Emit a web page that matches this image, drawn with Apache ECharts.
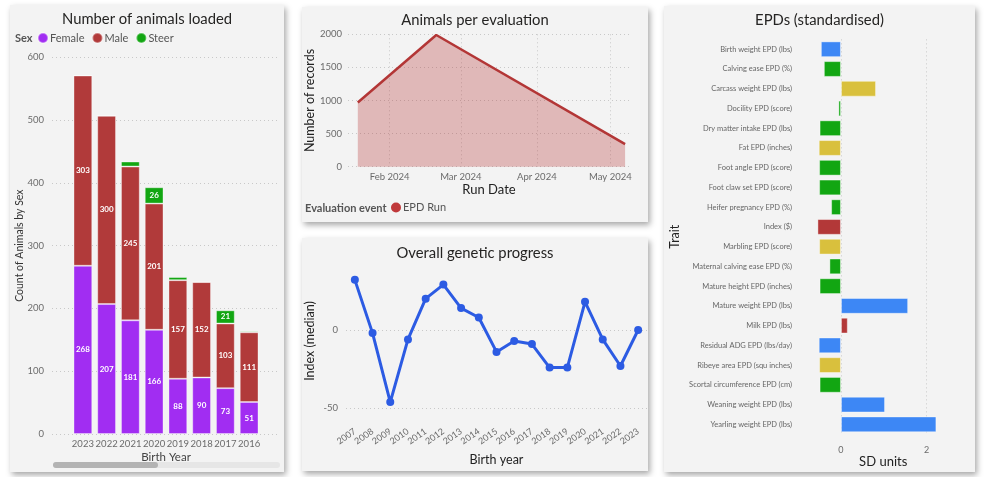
<!DOCTYPE html>
<html>
<head>
<meta charset="utf-8">
<script src="https://cdn.jsdelivr.net/npm/echarts@6/dist/echarts.min.js"></script>
<style>
  html, body { margin: 0; padding: 0; background: #ffffff; width: 986px; height: 477px; overflow: hidden; }
  .panel { position: absolute; background: #f3f3f3; box-shadow: 2px 3px 6px rgba(0,0,0,0.35); }
</style>
</head>
<body>
<div id="c1" class="panel" style="left:10px;top:5px;width:274px;height:467px;"></div>
<div id="c2" class="panel" style="left:302px;top:7px;width:346px;height:215px;"></div>
<div id="c3" class="panel" style="left:302px;top:238px;width:346px;height:233px;"></div>
<div id="c4" class="panel" style="left:664px;top:6px;width:311px;height:466px;"></div>
<script>
// ---------- data ----------
const birthYearsLoaded = ['2023', '2022', '2021', '2020', '2019', '2018', '2017', '2016'];
const femaleCount = [268, 207, 181, 166, 88, 90, 73, 51];
const maleCount = [303, 300, 245, 201, 157, 152, 103, 111];
const steerCount = [0, 0, 8, 26, 5, 0, 21, 2];
const countTicks = [0, 100, 200, 300, 400, 500, 600];

const runDates = ['2024-01-19', '2024-02-20', '2024-05-07'];
const runRecords = [970, 1990, 340];
const recordTicks = [0, 500, 1000, 1500, 2000];

const progressYears = ['2007', '2008', '2009', '2010', '2011', '2012', '2013', '2014', '2015',
  '2016', '2017', '2018', '2019', '2020', '2021', '2022', '2023'];
const indexMedian = [32, -2, -46, -6, 20, 29, 14, 8, -14, -7, -9, -24, -24, 18, -6, -23, 0];
const indexTicks = [-50, 0];

const traits = ['Birth weight EPD (lbs)', 'Calving ease EPD (%)', 'Carcass weight EPD (lbs)',
  'Docility EPD (score)', 'Dry matter intake EPD (lbs)', 'Fat EPD (inches)', 'Foot angle EPD (score)',
  'Foot claw set EPD (score)', 'Heifer pregnancy EPD (%)', 'Index ($)', 'Marbling EPD (score)',
  'Maternal calving ease EPD (%)', 'Mature height EPD (inches)', 'Mature weight EPD (lbs)',
  'Milk EPD (lbs)', 'Residual ADG EPD (lbs/day)', 'Ribeye area EPD (squ inches)',
  'Scortal circumference EPD (cm)', 'Weaning weight EPD (lbs)', 'Yearling weight EPD (lbs)'];
const sdUnits = [-0.47, -0.4, 0.82, -0.06, -0.5, -0.52, -0.51, -0.51, -0.23, -0.55, -0.51,
  -0.27, -0.5, 1.57, 0.16, -0.52, -0.51, -0.5, 1.03, 2.23];
const traitGroup = ['growth', 'fertility', 'carcass', 'fertility', 'fertility', 'carcass', 'fertility',
  'fertility', 'fertility', 'economic', 'carcass', 'fertility', 'fertility', 'growth', 'economic',
  'growth', 'carcass', 'fertility', 'growth', 'growth'];
const sdTicks = [0, 2];

// ---------- styles ----------
const FONT = 'Lato, "Noto Sans", sans-serif';
const TITLE_COLOR = '#252423';
const LABEL_COLOR = '#6b6b6b';
const groupColors = { growth: '#3d87f5', fertility: '#12a612', carcass: '#d9c03d', economic: '#b33838' };
const dotted = { color: '#c8c8c8', type: [1, 3], width: 1 };

function titleOpt(text, top) {
  return { text: text, left: 'center', top: top,
    textStyle: { fontFamily: FONT, fontSize: 14.8, fontWeight: 'normal', color: TITLE_COLOR } };
}

// ---------- chart 1 ----------
const c1 = echarts.init(document.getElementById('c1'), null, { renderer: 'canvas' });
const barLabel = {
  show: true, position: 'inside', color: '#ffffff', fontSize: 8, fontWeight: 'bold', fontFamily: FONT,
  formatter: p => (p.value >= 15 ? p.value : '')
};
c1.setOption({
  animation: false,
  title: titleOpt('Number of animals loaded', 2),
  legend: {
    left: 27, top: 27, padding: 0, itemWidth: 10, itemHeight: 10, itemGap: 7, icon: 'circle',
    textStyle: { fontFamily: FONT, fontSize: 11, color: '#555', padding: [0, 0, 0, -3] },
    data: ['Female', 'Male', 'Steer']
  },
  graphic: [
    { type: 'text', left: 5, top: 28, style: { text: 'Sex', fontFamily: FONT, fontSize: 11, fontWeight: 'bold', fill: '#555' } },
    { type: 'rect', shape: { x: 43, y: 457, width: 227, height: 6, r: 3 }, style: { fill: '#e6e6e6' } },
    { type: 'rect', shape: { x: 43, y: 457, width: 105, height: 6, r: 3 }, style: { fill: '#b3b3b3' } }
  ],
  grid: [
    { left: 61, width: 190, top: 52.3, height: 376.7, outerBoundsMode: 'none' },
    { left: 42, width: 228, top: 52.3, height: 376.7, outerBoundsMode: 'none' }
  ],
  xAxis: [
    { type: 'category', gridIndex: 0, data: birthYearsLoaded,
      axisLine: { show: false }, axisTick: { show: false },
      axisLabel: { fontFamily: FONT, fontSize: 9.5, color: LABEL_COLOR, margin: 5, interval: 0 },
      name: 'Birth Year', nameLocation: 'middle', nameGap: 17, nameMoveOverlap: false,
      nameTextStyle: { fontFamily: FONT, fontSize: 11.5, color: '#444' } },
    { type: 'category', gridIndex: 1, data: birthYearsLoaded, show: false }
  ],
  yAxis: [
    { type: 'value', gridIndex: 0, min: countTicks[0], max: countTicks[countTicks.length - 1], interval: 100, show: false },
    { type: 'value', gridIndex: 1, min: countTicks[0], max: countTicks[countTicks.length - 1], interval: 100,
      axisLine: { show: false }, axisTick: { show: false },
      axisLabel: { fontFamily: FONT, fontSize: 9.5, color: LABEL_COLOR, margin: 8 },
      splitLine: { show: true, lineStyle: dotted },
      name: 'Count of Animals by Sex', nameLocation: 'middle', nameGap: 27, nameMoveOverlap: false,
      nameTextStyle: { fontFamily: FONT, fontSize: 10.5, color: '#333' } }
  ],
  series: [
    { name: 'Female', type: 'bar', stack: 'sex', xAxisIndex: 0, yAxisIndex: 0, data: femaleCount,
      barCategoryGap: '21%', itemStyle: { color: '#a12df2', borderColor: 'rgba(255,255,255,0.35)', borderWidth: 1 }, label: barLabel },
    { name: 'Male', type: 'bar', stack: 'sex', xAxisIndex: 0, yAxisIndex: 0, data: maleCount,
      barCategoryGap: '21%', itemStyle: { color: '#b13a3a', borderColor: 'rgba(255,255,255,0.35)', borderWidth: 1 }, label: barLabel },
    { name: 'Steer', type: 'bar', stack: 'sex', xAxisIndex: 0, yAxisIndex: 0, data: steerCount,
      barCategoryGap: '21%', itemStyle: { color: '#12a612', borderColor: 'rgba(255,255,255,0.35)', borderWidth: 1 }, label: barLabel },
    { type: 'bar', xAxisIndex: 1, yAxisIndex: 1, data: [], silent: true }
  ]
});

// ---------- chart 2 ----------
const c2 = echarts.init(document.getElementById('c2'));
const DAY = 86400000;
c2.setOption({
  animation: false,
  title: titleOpt('Animals per evaluation', 1),
  legend: {
    left: 89, top: 195, padding: 0, itemWidth: 10, itemHeight: 10, icon: 'circle',
    textStyle: { fontFamily: FONT, fontSize: 11, color: '#555', padding: [0, 0, 0, -3] },
    data: ['EPD Run']
  },
  graphic: [
    { type: 'text', left: 3, top: 196, style: { text: 'Evaluation event', fontFamily: FONT, fontSize: 11, fontWeight: 'bold', fill: '#555' } }
  ],
  grid: { left: 46, width: 282, top: 27.3, height: 132.4, outerBoundsMode: 'none' },
  xAxis: {
    type: 'time',
    min: new Date('2024-01-15T00:00:00Z').getTime(),
    max: new Date('2024-05-09T00:00:00Z').getTime(),
    splitNumber: 4, minInterval: 28 * DAY,
    axisLine: { show: false }, axisTick: { show: false },
    axisLabel: { fontFamily: FONT, fontSize: 9.5, color: LABEL_COLOR, margin: 5, formatter: '{MMM} {yyyy}',
      showMinLabel: false, showMaxLabel: false, hideOverlap: false },
    splitLine: { show: true, lineStyle: dotted, showMinLine: false, showMaxLine: false },
    name: 'Run Date', nameLocation: 'middle', nameGap: 17, nameMoveOverlap: false,
    nameTextStyle: { fontFamily: FONT, fontSize: 13, color: '#222' }
  },
  yAxis: {
    type: 'value', min: recordTicks[0], max: recordTicks[recordTicks.length - 1], interval: 500,
    axisLine: { show: false }, axisTick: { show: false },
    axisLabel: { fontFamily: FONT, fontSize: 9.5, color: LABEL_COLOR, margin: 6, formatter: v => String(v) },
    splitLine: { show: true, lineStyle: dotted },
    name: 'Number of records', nameLocation: 'middle', nameGap: 32, nameMoveOverlap: false,
    nameTextStyle: { fontFamily: FONT, fontSize: 12.5, color: '#222' }
  },
  series: [{
    name: 'EPD Run', type: 'line',
    data: runDates.map((d, i) => [new Date(d + 'T00:00:00Z').getTime(), runRecords[i]]),
    symbol: 'none', itemStyle: { color: '#c0393b' },
    lineStyle: { color: '#b33636', width: 2.5 },
    areaStyle: { color: 'rgba(184,56,58,0.45)' }
  }]
});

// ---------- chart 3 ----------
const c3 = echarts.init(document.getElementById('c3'));
c3.setOption({
  animation: false,
  title: titleOpt('Overall genetic progress', 3),
  grid: { left: 44, width: 301, top: 35.6, height: 134.7, outerBoundsMode: 'none' },
  xAxis: {
    type: 'category', data: progressYears, boundaryGap: true,
    axisLine: { show: false }, axisTick: { show: false },
    axisLabel: { fontFamily: FONT, fontSize: 9, color: LABEL_COLOR, rotate: 35, margin: 22, interval: 0 },
    name: 'Birth year', nameLocation: 'middle', nameGap: 45, nameMoveOverlap: false,
    nameTextStyle: { fontFamily: FONT, fontSize: 12.5, color: '#222' }
  },
  yAxis: {
    type: 'value', min: indexTicks[0], max: 36, interval: 50,
    axisLine: { show: false }, axisTick: { show: false },
    axisLabel: { fontFamily: FONT, fontSize: 9.5, color: LABEL_COLOR, margin: 8, showMaxLabel: false },
    splitLine: { show: true, lineStyle: dotted, showMaxLine: false },
    name: 'Index (median)', nameLocation: 'middle', nameGap: 30, nameMoveOverlap: false,
    nameTextStyle: { fontFamily: FONT, fontSize: 12.5, color: '#222' }
  },
  series: [{
    type: 'line', data: indexMedian,
    symbol: 'circle', symbolSize: 8,
    itemStyle: { color: '#2c5be3' },
    lineStyle: { color: '#2c5be3', width: 3 }
  }]
});

// ---------- chart 4 ----------
const c4 = echarts.init(document.getElementById('c4'));
c4.setOption({
  animation: false,
  title: titleOpt('EPDs (standardised)', 2),
  grid: { left: 147, width: 128.4, top: 33.4, height: 394.8, outerBoundsMode: 'none' },
  xAxis: {
    type: 'value', min: -0.7, max: 2.3,
    axisLine: { show: false }, axisTick: { show: false },
    axisLabel: { fontFamily: FONT, fontSize: 9, color: LABEL_COLOR, margin: 11, customValues: sdTicks },
    splitLine: { show: false },
    name: 'SD units', nameLocation: 'middle', nameGap: 21, nameMoveOverlap: false,
    nameTextStyle: { fontFamily: FONT, fontSize: 13, color: '#222', padding: [0, 0, 0, 16] }
  },
  yAxis: {
    type: 'category', data: traits, inverse: true,
    axisLine: { show: false }, axisTick: { show: false },
    axisLabel: { fontFamily: FONT, fontSize: 7.5, color: '#666', margin: 19, interval: 0 },
    name: 'Trait', nameLocation: 'middle', nameGap: 130, nameMoveOverlap: false,
    nameTextStyle: { fontFamily: FONT, fontSize: 12.5, color: '#222' }
  },
  series: [
    { type: 'line', data: [], z: 0, silent: true,
      markLine: {
        silent: true, symbol: 'none', label: { show: false }, z: 0,
        lineStyle: { color: '#c8c8c8', type: [1, 3], width: 1 },
        data: sdTicks.map(v => ({ xAxis: v }))
      } },
    { type: 'bar', barCategoryGap: '20%', z: 2,
      data: sdUnits.map((v, i) => ({ value: v, itemStyle: { color: groupColors[traitGroup[i]] } })),
      itemStyle: { borderColor: 'rgba(255,255,255,0.4)', borderWidth: 1 } }
  ]
});
</script>
</body>
</html>
